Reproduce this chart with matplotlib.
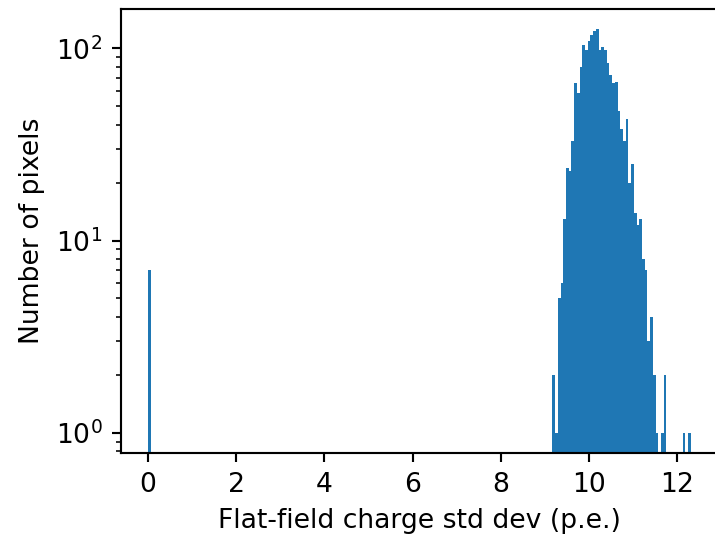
import numpy as np
import matplotlib
matplotlib.use("Agg")
import matplotlib.pyplot as plt

# Histogram definition (200 bins over the data range)
range_min = 0.0
range_max = 12.31
n_bins = 200

# Non-zero bins: bin index -> count
zero_bin_count = 7          # bin 0 (pixels with std dev = 0)
cluster_start_bin = 149
cluster_counts = [2, 1, 5, 6, 13, 24, 23, 33, 66, 59,
                  80, 104, 98, 110, 117, 124, 126, 98, 102, 98,
                  84, 73, 66, 67, 47, 38, 33, 43, 20, 25,
                  14, 12, 13, 8, 7, 3, 4, 2, 1, 0,
                  1, 2, 0, 0, 0, 0, 0, 0, 1, 0,
                  1]

edges = np.linspace(range_min, range_max, n_bins + 1)
centers = 0.5 * (edges[:-1] + edges[1:])
counts = np.zeros(n_bins)
counts[0] = zero_bin_count
counts[cluster_start_bin:cluster_start_bin + len(cluster_counts)] = cluster_counts

DPI = 192
fig = plt.figure(figsize=(715 / DPI, 534 / DPI), dpi=DPI)
ax = fig.add_axes([121 / 715, 1 - 453 / 534, (718 - 121) / 715, (453 - 9) / 534])
ax.hist(centers, bins=edges, weights=counts, log=True, color="#1f77b4")
ax.set_xlabel("Flat-field charge std dev (p.e.)")
ax.set_ylabel("Number of pixels")
fig.savefig("out.png", dpi=DPI)
